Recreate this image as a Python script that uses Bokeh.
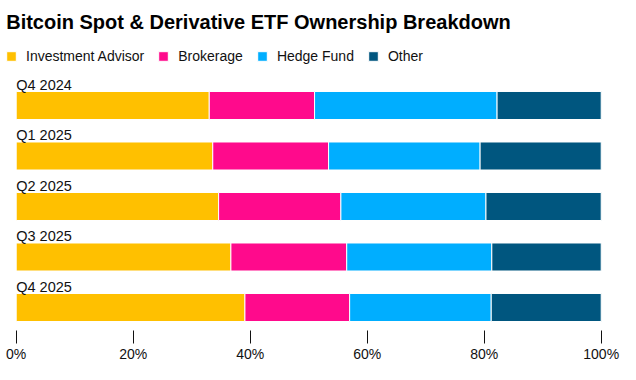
from bokeh.plotting import figure
from bokeh.models import ColumnDataSource, Range1d, FixedTicker, PrintfTickFormatter, Label
from bokeh.core.properties import value
from bokeh.embed import file_html
from bokeh.resources import INLINE

title_text = "Bitcoin Spot & Derivative ETF Ownership Breakdown"
quarters = ["Q4 2024", "Q1 2025", "Q2 2025", "Q3 2025", "Q4 2025"]
series = ["Investment Advisor", "Brokerage", "Hedge Fund", "Other"]
investment_advisor = [33.0, 33.6, 34.6, 36.7, 39.1]
brokerage = [18.0, 19.8, 20.9, 19.8, 17.9]
hedge_fund = [31.2, 25.9, 24.8, 24.8, 24.2]
other = [17.8, 20.7, 19.7, 18.7, 18.8]
tick_values = [0, 20, 40, 60, 80, 100]
colors = ["#FFC000", "#FF0A8C", "#00AEFF", "#00567F"]

FONT = "Liberation Sans"

W, H = 620, 364
BOTTOM = 34
FRAME_H = H - BOTTOM
px_per_pct = 5.85
x_zero_px = 15.7
x0 = -x_zero_px / px_per_pct
x1 = x0 + W / px_per_pct
px_per_unit = 50.5
first_center_px = 105.0
y_top = -first_center_px / px_per_unit
y_bot = y_top + FRAME_H / px_per_unit


def ydata(px):
    return y_top + px / px_per_unit


ypos = list(range(len(quarters)))
source = ColumnDataSource(dict(
    y=ypos,
    label_y=[v - 0.41 for v in ypos],
    label_x=[0] * len(quarters),
    quarter=quarters,
    **{
        "Investment Advisor": investment_advisor,
        "Brokerage": brokerage,
        "Hedge Fund": hedge_fund,
        "Other": other,
    }
))

p = figure(width=W, height=H, output_backend="svg", toolbar_location=None,
           x_range=Range1d(x0, x1), y_range=Range1d(y_bot, y_top),
           y_axis_location=None, min_border_left=0, min_border_right=0,
           min_border_top=0, min_border_bottom=BOTTOM)
p.outline_line_color = None
p.xgrid.visible = False
p.ygrid.visible = False
p.background_fill_color = "white"
p.border_fill_color = "white"

p.hbar_stack(series, y="y", height=0.555, color=colors, line_color="white",
             line_width=1, source=source, legend_label=series)

p.text(x="label_x", y="label_y", text="quarter", source=source,
       text_font=value(FONT), text_font_size="14.5px", text_color="#111111",
       text_baseline="alphabetic", text_align="left")

p.add_layout(Label(x=(5.7 - x_zero_px) / px_per_pct, y=ydata(21.0),
                   text=title_text, text_font=FONT, text_font_size="20px",
                   text_font_style="bold", text_color="#000000",
                   text_baseline="alphabetic"))

ax = p.xaxis[0]
ax.ticker = FixedTicker(ticks=tick_values)
ax.formatter = PrintfTickFormatter(format="%d%%")
ax.axis_line_color = None
ax.major_tick_in = 0
ax.major_tick_out = 13
ax.major_tick_line_color = "#111111"
ax.minor_tick_line_color = None
ax.major_label_standoff = 2
ax.major_label_text_line_height = 0.8
ax.major_label_text_font = FONT
ax.major_label_text_font_size = "14px"
ax.major_label_text_color = "#111111"

lg = p.legend[0]
lg.orientation = "horizontal"
lg.location = (5, FRAME_H - 64)
lg.border_line_color = None
lg.background_fill_alpha = 0
lg.padding = 0
lg.margin = 0
lg.spacing = 13
lg.glyph_width = 12
lg.glyph_height = 12
lg.label_standoff = 9
lg.label_text_font = FONT
lg.label_text_font_size = "14px"
lg.label_text_color = "#111111"

open("out.html", "w").write(file_html(p, INLINE))
